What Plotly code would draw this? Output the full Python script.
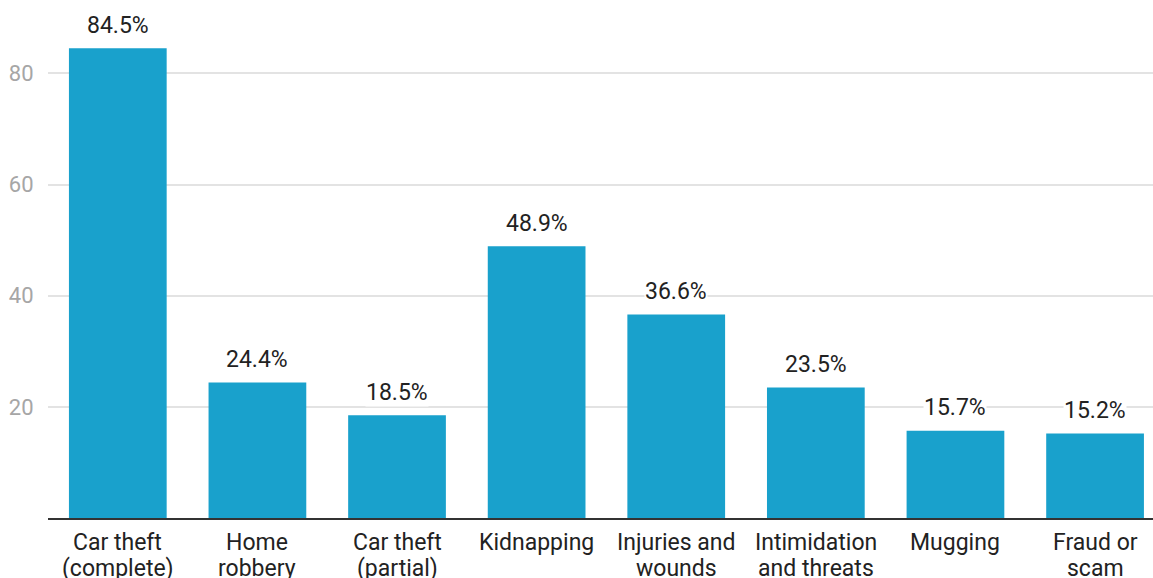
import plotly.graph_objects as go

categories = [["Car theft", "(complete)"], ["Home", "robbery"], ["Car theft", "(partial)"],
              ["Kidnapping"], ["Injuries and", "wounds"], ["Intimidation", "and threats"],
              ["Mugging"], ["Fraud or", "scam"]]
values = [84.5, 24.4, 18.5, 48.9, 36.6, 23.5, 15.7, 15.2]
y_ticks = [20, 40, 60, 80]

BAR_COLOR = "#19a1cc"
FONT = "Roboto"
TEXT_COLOR = "#222222"

x_pos = list(range(len(categories)))

fig = go.Figure()
fig.add_trace(go.Bar(
    x=x_pos,
    y=values,
    marker=dict(color=BAR_COLOR, line=dict(width=0)),
    width=0.7,
    hoverinfo="skip",
))

# value labels above each bar, on a white box that hides the gridlines behind them
for i, v in zip(x_pos, values):
    fig.add_annotation(
        x=i, y=v, text=f"{v}%", showarrow=False,
        yshift=23, bgcolor="white", borderpad=0,
        font=dict(family=FONT, size=23, color=TEXT_COLOR),
    )

# category names under the axis, one annotation per line for tight line spacing
LINE_OFFSETS = [-24, -50]
for i, lines in zip(x_pos, categories):
    for line, off in zip(lines, LINE_OFFSETS):
        fig.add_annotation(
            x=i, y=0, text=line, showarrow=False,
            yanchor="middle", yshift=off,
            font=dict(family=FONT, size=23, color=TEXT_COLOR),
        )

fig.update_layout(
    width=1153, height=578,
    margin=dict(l=48, r=0, t=0, b=60),
    plot_bgcolor="white", paper_bgcolor="white",
    showlegend=False,
    font=dict(family=FONT),
    xaxis=dict(
        range=[-0.5, 7.415],
        tickmode="array",
        tickvals=x_pos,
        showticklabels=False,
        showgrid=False,
        showline=True, linecolor="#333333", linewidth=1.5,
        ticks="",
        zeroline=False,
        automargin=False,
    ),
    yaxis=dict(
        range=[0, 93.2],
        tickmode="array",
        tickvals=y_ticks,
        tickfont=dict(family=FONT, size=22, color="#a6a6a6"),
        showgrid=True, gridcolor="#e3e3e3", gridwidth=1.5,
        zeroline=False,
        ticks="outside", ticklen=9, tickcolor="white",
        showline=False,
        automargin=False,
    ),
)

fig.write_html("out.html")
